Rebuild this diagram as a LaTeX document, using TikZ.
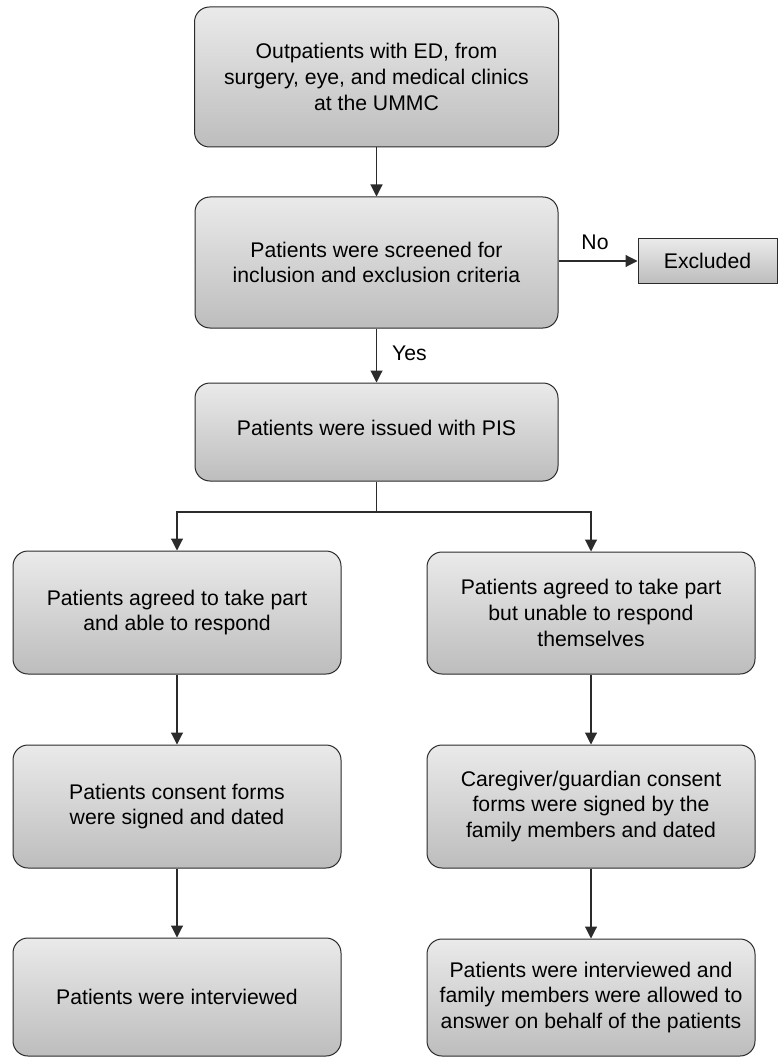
\documentclass[tikz,border=0pt]{standalone}
\usepackage{fontspec}
\setmainfont{Liberation Sans}
\usetikzlibrary{arrows.meta}
\definecolor{boxtop}{HTML}{EAEAEA}
\definecolor{boxbot}{HTML}{BDBDBD}
\definecolor{edge}{HTML}{2B2B2B}
\tikzset{
  box/.style={draw=edge, line width=1pt, rounded corners=15pt, top color=boxtop, bottom color=boxbot,
    inner sep=0pt, align=center, font=\fontsize{21.2}{25.8}\selectfont},
  sqbox/.style={box, rounded corners=0pt},
  arr/.style={draw=edge, line width=1.1pt, -{Triangle[length=12pt,width=12pt]}},
  lin/.style={draw=edge, line width=1.1pt},
  lbl/.style={inner sep=0pt, font=\fontsize{21.2}{25.8}\selectfont}
}
\begin{document}
\begin{tikzpicture}[x=1pt,y=-1pt]
\useasboundingbox (0,0) rectangle (778,1059);
\node[box, minimum width=364pt, minimum height=140pt] (top) at (376.5,77)
  {Outpatients with ED, from\\surgery, eye, and medical clinics\\at the UMMC};
\node[box, minimum width=363pt, minimum height=131pt] (screen) at (376.5,262.5)
  {Patients were screened for\\inclusion and exclusion criteria};
\node[sqbox, minimum width=139pt, minimum height=44pt] (excl) at (707.5,261) {Excluded};
\node[box, minimum width=363pt, minimum height=98pt] (pis) at (376.5,432)
  {\raisebox{8pt}{Patients were issued with PIS}};
\node[box, minimum width=328pt, minimum height=123pt] (l1) at (177,612.5)
  {Patients agreed to take part\\and able to respond};
\node[box, minimum width=328pt, minimum height=122pt] (r1) at (591,613)
  {Patients agreed to take part\\but unable to respond\\themselves};
\node[box, minimum width=328pt, minimum height=123pt] (l2) at (177,806.5)
  {Patients consent forms\\were signed and dated};
\node[box, minimum width=328pt, minimum height=123pt] (r2) at (591,806.5)
  {Caregiver/guardian consent\\forms were signed by the\\family members and dated};
\node[box, minimum width=328pt, minimum height=118pt] (l3) at (177,997)
  {Patients were interviewed};
\node[box, minimum width=328pt, minimum height=117pt] (r3) at (591,997.5)
  {Patients were interviewed and\\family members were allowed to\\answer on behalf of the patients};
\coordinate (branch) at (376.5,512);
\draw[arr] (top) -- (screen);
\draw[arr] (screen.east |- excl.west) -- (excl.west);
\draw[arr] (screen) -- (pis);
\draw[lin] (pis.south) -- (branch);
\draw[arr] (branch) -| (l1.north);
\draw[arr] (branch) -| (r1.north);
\draw[arr] (l1) -- (l2);
\draw[arr] (l2) -- (l3);
\draw[arr] (r1) -- (r2);
\draw[arr] (r2) -- (r3);
\node[lbl, anchor=west] (yes) at (392,353) {Yes};
\node[lbl] (no) at (595,242) {No};
\end{tikzpicture}
\end{document}
